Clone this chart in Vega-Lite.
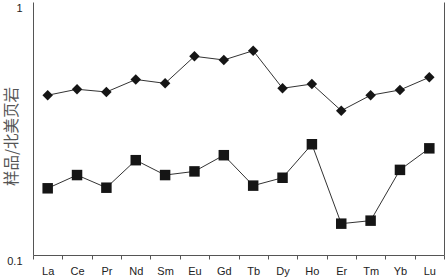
{
  "$schema": "https://vega.github.io/schema/vega-lite/v6.json",
  "width": 411,
  "height": 253,
  "autosize": {"type": "none"},
  "padding": {"left": 33, "top": 2, "right": 3, "bottom": 25},
  "background": "white",
  "config": {
    "view": {"stroke": null},
    "font": "Liberation Sans"
  },
  "data": {
    "values": [
      {"el": "La", "s": "A", "v": 0.428}, {"el": "Ce", "s": "A", "v": 0.452}, {"el": "Pr", "s": "A", "v": 0.441},
      {"el": "Nd", "s": "A", "v": 0.494}, {"el": "Sm", "s": "A", "v": 0.477}, {"el": "Eu", "s": "A", "v": 0.610},
      {"el": "Gd", "s": "A", "v": 0.590}, {"el": "Tb", "s": "A", "v": 0.642}, {"el": "Dy", "s": "A", "v": 0.456},
      {"el": "Ho", "s": "A", "v": 0.474}, {"el": "Er", "s": "A", "v": 0.372}, {"el": "Tm", "s": "A", "v": 0.428},
      {"el": "Yb", "s": "A", "v": 0.449}, {"el": "Lu", "s": "A", "v": 0.504},
      {"el": "La", "s": "B", "v": 0.1835}, {"el": "Ce", "s": "B", "v": 0.207}, {"el": "Pr", "s": "B", "v": 0.1845},
      {"el": "Nd", "s": "B", "v": 0.237}, {"el": "Sm", "s": "B", "v": 0.207}, {"el": "Eu", "s": "B", "v": 0.214},
      {"el": "Gd", "s": "B", "v": 0.248}, {"el": "Tb", "s": "B", "v": 0.188}, {"el": "Dy", "s": "B", "v": 0.202},
      {"el": "Ho", "s": "B", "v": 0.274}, {"el": "Er", "s": "B", "v": 0.133}, {"el": "Tm", "s": "B", "v": 0.1367},
      {"el": "Yb", "s": "B", "v": 0.217}, {"el": "Lu", "s": "B", "v": 0.264}
    ]
  },
  "encoding": {
    "x": {
      "field": "el", "type": "nominal", "sort": null,
      "scale": {"type": "band", "paddingInner": 0, "paddingOuter": 0},
      "axis": {
        "title": null, "labelAngle": 0, "tickBand": "extent", "grid": false,
        "domainColor": "#555", "tickColor": "#555", "tickSize": 4,
        "labelFontSize": 11, "labelColor": "#222", "labelPadding": 6
      }
    },
    "y": {
      "field": "v", "type": "quantitative",
      "scale": {"type": "log", "domain": [0.1, 1], "nice": false}
    }
  },
  "layer": [
    {
      "mark": {"type": "line", "color": "#333", "strokeWidth": 1},
      "encoding": {
        "detail": {"field": "s"},
        "y": {
          "field": "v", "type": "quantitative",
          "scale": {"type": "log", "domain": [0.1, 1], "nice": false},
          "axis": {
            "orient": "left", "values": [0.1, 1], "format": "~g", "grid": false, "ticks": false,
            "domainColor": "#555", "labelFontSize": 11, "labelColor": "#222", "labelPadding": 11,
            "labelBaseline": "top",
            "title": "样品/北美页岩", "titleFont": "Noto Sans CJK SC", "titleFontSize": 15.5,
            "titleFontWeight": "normal", "titleColor": "#555",
            "titleX": -22, "titleY": 134, "titleAngle": -90, "titleAlign": "center", "titleBaseline": "middle"
          }
        }
      }
    },
    {
      "mark": {"type": "point", "filled": true, "opacity": 1, "color": "#151515", "size": 110},
      "encoding": {
        "shape": {"field": "s", "type": "nominal", "scale": {"domain": ["A", "B"], "range": ["diamond", "square"]}, "legend": null},
        "y": {
          "field": "v", "type": "quantitative",
          "scale": {"type": "log", "domain": [0.1, 1], "nice": false},
          "axis": {"orient": "right", "labels": false, "ticks": false, "grid": false, "title": null, "domainColor": "#555"}
        }
      }
    }
  ],
  "resolve": {"axis": {"y": "independent"}}
}
